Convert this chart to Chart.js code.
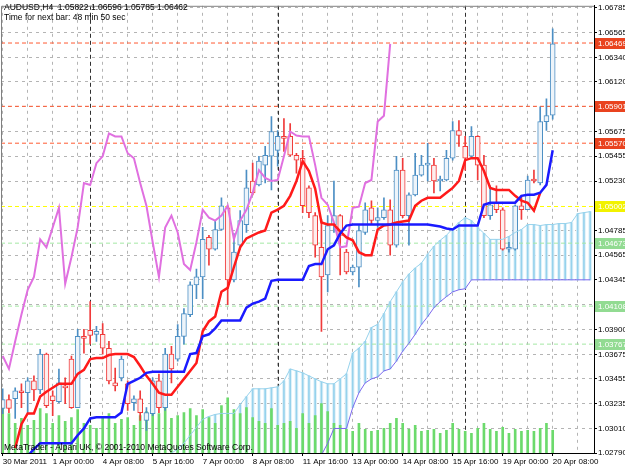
<!DOCTYPE html>
<html>
<head>
<meta charset="utf-8">
<script src="https://cdn.jsdelivr.net/npm/chart.js@4.4.0/dist/chart.umd.min.js"></script>
<style>
  html, body { margin: 0; padding: 0; background: #fff; }
</style>
</head>
<body>
<canvas id="myChart" width="625" height="469"></canvas>
<script>
// AUDUSD H4, bar 0 = 30 Mar 2011 16:00, one bar every 4 hours (weekends skipped)
const symbolName = 'AUDUSD,H4';
const labelBars = [0, 8, 16, 24, 32, 40, 48, 56, 64, 72, 80, 88];
const labelTexts = ['30 Mar 2011', '1 Apr 00:00', '4 Apr 08:00', '5 Apr 16:00', '7 Apr 00:00', '8 Apr 08:00',
    '11 Apr 16:00', '13 Apr 00:00', '14 Apr 08:00', '15 Apr 16:00', '19 Apr 00:00', '20 Apr 08:00'];
const weekStartBars = [14, 44, 74];
const priceTicks = [1.02790, 1.03010, 1.03235, 1.03455, 1.03675, 1.03900, 1.04120, 1.04345, 1.04565, 1.04785,
    1.05005, 1.05230, 1.05455, 1.05675, 1.05900, 1.06120, 1.06340, 1.06565, 1.06785];

const open = [1.03189, 1.03269, 1.03277, 1.03348, 1.03331, 1.03437, 1.03357, 1.03677, 1.03304, 1.03251,
    1.03393, 1.03633, 1.03197, 1.03837, 1.03890, 1.03855, 1.03855, 1.03730, 1.03419, 1.03464,
    1.03411, 1.03242, 1.03277, 1.03082, 1.03144, 1.03437, 1.03197, 1.03677, 1.03633, 1.03837,
    1.04032, 1.04299, 1.04370, 1.04725, 1.04618, 1.04796, 1.04991, 1.04344, 1.04654, 1.04840,
    1.05231, 1.05195, 1.05373, 1.05453, 1.05506, 1.05631, 1.05631, 1.05462, 1.05435, 1.05169,
    1.04920, 1.04636, 1.04387, 1.04840, 1.04920, 1.04592, 1.04414, 1.04458, 1.04769, 1.04991,
    1.04876, 1.04902, 1.04973, 1.04654, 1.05329, 1.04920, 1.05107, 1.05284, 1.05373, 1.05373,
    1.05231, 1.05240, 1.05435, 1.05684, 1.05542, 1.05453, 1.05631, 1.05373, 1.04920, 1.05036,
    1.04973, 1.04618, 1.04618, 1.05009, 1.04973, 1.05240, 1.05213, 1.05764, 1.05822];
const high = [1.03366, 1.03313, 1.03375, 1.03411, 1.03464, 1.03482, 1.03721, 1.03686, 1.03348, 1.03544,
    1.03464, 1.03659, 1.03899, 1.03899, 1.04148, 1.03926, 1.03952, 1.03792, 1.03553, 1.03659,
    1.03437, 1.03304, 1.03348, 1.03197, 1.03464, 1.03499, 1.03730, 1.03748, 1.03943, 1.04085,
    1.04325, 1.04441, 1.04814, 1.04743, 1.04876, 1.05080, 1.05009, 1.04760, 1.04965, 1.05329,
    1.05391, 1.05453, 1.05542, 1.05808, 1.05684, 1.05790, 1.05746, 1.05480, 1.05506, 1.05187,
    1.04947, 1.04885, 1.04920, 1.05231, 1.04929, 1.04618, 1.04476, 1.04831, 1.05036, 1.05053,
    1.04991, 1.05080, 1.05062, 1.05453, 1.05435, 1.05124, 1.05480, 1.05462, 1.05568, 1.05435,
    1.05275, 1.05506, 1.05764, 1.05773, 1.05631, 1.05719, 1.05639, 1.05462, 1.05187, 1.05187,
    1.04991, 1.04681, 1.05018, 1.05098, 1.05275, 1.05329, 1.05897, 1.05968, 1.06596];
const low = [1.03144, 1.03153, 1.03100, 1.03197, 1.03144, 1.03260, 1.03322, 1.03197, 1.03126, 1.03242,
    1.03233, 1.03189, 1.03197, 1.03686, 1.03766, 1.03792, 1.03677, 1.03411, 1.03348, 1.03437,
    1.03171, 1.03171, 1.03082, 1.02993, 1.03126, 1.03153, 1.03171, 1.03419, 1.03615, 1.03766,
    1.04014, 1.04174, 1.04174, 1.04476, 1.04609, 1.04787, 1.04121, 1.04325, 1.04618, 1.04769,
    1.05107, 1.05187, 1.05213, 1.05151, 1.05364, 1.05497, 1.05453, 1.05302, 1.04947, 1.04902,
    1.04547, 1.03881, 1.04236, 1.04769, 1.04387, 1.04396, 1.04387, 1.04281, 1.04751, 1.04840,
    1.04814, 1.04885, 1.04565, 1.04636, 1.04902, 1.04654, 1.05098, 1.05275, 1.05231, 1.05124,
    1.05142, 1.05231, 1.05417, 1.05542, 1.05329, 1.05435, 1.05240, 1.04902, 1.04885, 1.04947,
    1.04609, 1.04592, 1.04609, 1.04885, 1.04973, 1.05213, 1.05195, 1.05684, 1.05785];
const close = [1.03269, 1.03189, 1.03348, 1.03331, 1.03437, 1.03357, 1.03677, 1.03215, 1.03260, 1.03419,
    1.03375, 1.03197, 1.03837, 1.03819, 1.03846, 1.03881, 1.03730, 1.03437, 1.03393, 1.03633,
    1.03233, 1.03277, 1.03153, 1.03153, 1.03437, 1.03197, 1.03677, 1.03544, 1.03837, 1.04041,
    1.04299, 1.04370, 1.04707, 1.04618, 1.04796, 1.05009, 1.04344, 1.04592, 1.04876, 1.05169,
    1.05124, 1.05409, 1.05462, 1.05675, 1.05631, 1.05613, 1.05462, 1.05417, 1.05009, 1.04947,
    1.04654, 1.04370, 1.04831, 1.04920, 1.04743, 1.04414, 1.04458, 1.04787, 1.04973, 1.04876,
    1.04902, 1.04973, 1.04654, 1.05329, 1.04920, 1.05107, 1.05284, 1.05373, 1.05382, 1.05231,
    1.05240, 1.05435, 1.05684, 1.05639, 1.05435, 1.05631, 1.05373, 1.04920, 1.05018, 1.04973,
    1.04618, 1.04636, 1.05009, 1.04973, 1.05240, 1.05231, 1.05764, 1.05817, 1.06462];
const volume = [960, 800, 600, 700, 560, 660, 900, 800, 600, 760,
    640, 720, 880, 600, 560, 500, 700, 800, 600, 680,
    720, 560, 760, 840, 900, 800, 920, 700, 760, 820,
    900, 760, 880, 720, 600, 960, 1120, 880, 800, 920,
    720, 640, 600, 900, 560, 600, 640, 500, 800, 600,
    760, 1000, 840, 600, 560, 480, 440, 600, 480, 440,
    460, 500, 600, 700, 600, 480, 560, 440, 460, 480,
    400, 460, 600, 480, 440, 400, 500, 600, 480, 440,
    520, 400, 480, 440, 460, 440, 500, 600, 460];

// Ichimoku lines
const tenkan = [null, null, 1.02834, 1.03048, 1.03145, 1.03145, 1.03296, 1.03340, 1.03376, 1.03411,
    1.03411, 1.03411, 1.03500, 1.03536, 1.03633, 1.03642, 1.03642, 1.03669, 1.03678, 1.03678,
    1.03678, 1.03651, 1.03571, 1.03482, 1.03411, 1.03331, 1.03313, 1.03313, 1.03384, 1.03455,
    1.03526, 1.03598, 1.03882, 1.03971, 1.04015, 1.04237, 1.04272, 1.04459, 1.04636, 1.04716,
    1.04743, 1.04769, 1.04787, 1.04947, 1.04974, 1.05009, 1.05098, 1.05231, 1.05409, 1.05320,
    1.05160, 1.04858, 1.04840, 1.04840, 1.04778, 1.04725, 1.04699, 1.04592, 1.04565, 1.04565,
    1.04796, 1.04831, 1.04840, 1.04858, 1.04867, 1.04876, 1.05009, 1.05054, 1.05080, 1.05080,
    1.05080, 1.05125, 1.05169, 1.05231, 1.05418, 1.05436, 1.05436, 1.05320, 1.05169, 1.05151,
    1.05151, 1.05151, 1.05098, 1.05054, 1.05036, 1.04965, 1.05125];
const kijun = [null, null, null, null, 1.02764, 1.02825, 1.02878, 1.02878, 1.02878, 1.02878,
    1.02878, 1.02878, 1.02949, 1.03011, 1.03100, 1.03110, 1.03110, 1.03110, 1.03110, 1.03154,
    1.03411, 1.03438, 1.03465, 1.03509, 1.03518, 1.03518, 1.03518, 1.03518, 1.03518, 1.03518,
    1.03678, 1.03687, 1.03838, 1.03855, 1.03909, 1.03980, 1.03980, 1.03980, 1.03980, 1.04095,
    1.04130, 1.04148, 1.04175, 1.04335, 1.04344, 1.04344, 1.04344, 1.04344, 1.04344, 1.04468,
    1.04485, 1.04485, 1.04618, 1.04654, 1.04760, 1.04831, 1.04840, 1.04840, 1.04840, 1.04840,
    1.04840, 1.04840, 1.04840, 1.04840, 1.04840, 1.04840, 1.04840, 1.04840, 1.04840, 1.04831,
    1.04823, 1.04805, 1.04796, 1.04831, 1.04831, 1.04831, 1.04831, 1.05018, 1.05036, 1.05036,
    1.05036, 1.05036, 1.05036, 1.05098, 1.05107, 1.05107, 1.05125, 1.05196, 1.05507];
const chikou = [1.03660, 1.03545, 1.03793, 1.04033, 1.04255, 1.04370, 1.04707, 1.04636, 1.04814, 1.04991,
    1.04308, 1.04547, 1.04814, 1.05213, 1.05195, 1.05391, 1.05453, 1.05658, 1.05631, 1.05631,
    1.05480, 1.05435, 1.05213, 1.05009, 1.04681, 1.04370, 1.04814, 1.04920, 1.04769, 1.04486,
    1.04432, 1.04681, 1.04973, 1.04902, 1.04876, 1.04920, 1.05009, 1.04707, 1.04876, 1.04973,
    1.05125, 1.05329, 1.05258, 1.05231, 1.05240, 1.05453, 1.05675, 1.05639, 1.05631, 1.05631,
    1.05373, 1.05080, 1.05018, 1.04858, 1.04636, 1.04645, 1.04991, 1.05000, 1.05213, 1.05240,
    1.05764, 1.05817, 1.06462];
// cloud, bars 27..94 (span B is below the visible range until bar 51)
const spanA = Array(27).fill(null).concat([
    1.02789, 1.02825, 1.02878, 1.02949, 1.03020, 1.03092, 1.03118, 1.03136, 1.03145, 1.03145,
    1.03145, 1.03225, 1.03296, 1.03366, 1.03366, 1.03366, 1.03375, 1.03384, 1.03437, 1.03544,
    1.03527, 1.03509, 1.03482, 1.03455, 1.03429, 1.03411, 1.03411, 1.03455, 1.03500, 1.03686,
    1.03731, 1.03793, 1.03917, 1.03944, 1.04041, 1.04148, 1.04236, 1.04325, 1.04396, 1.04450,
    1.04494, 1.04574, 1.04645, 1.04699, 1.04743, 1.04805, 1.04858, 1.04902, 1.04876, 1.04814,
    1.04761, 1.04707, 1.04707, 1.04707, 1.04734, 1.04769, 1.04796, 1.04840, 1.04840, 1.04831,
    1.04840, 1.04840, 1.04849, 1.04849, 1.04858, 1.04938, 1.04947, 1.04956]);
const spanB = Array(27).fill(null).concat([
    1.02700, 1.02700, 1.02700, 1.02700, 1.02700, 1.02700, 1.02700, 1.02700, 1.02700, 1.02700,
    1.02700, 1.02700, 1.02700, 1.02700, 1.02700, 1.02700, 1.02700, 1.02700, 1.02700, 1.02700,
    1.02700, 1.02700, 1.02700, 1.02700, 1.02772, 1.02878, 1.03010, 1.03010, 1.03010, 1.03197,
    1.03331, 1.03419, 1.03455, 1.03473, 1.03527, 1.03544, 1.03615, 1.03704, 1.03775, 1.03855,
    1.03943, 1.04014, 1.04094, 1.04148, 1.04193, 1.04236, 1.04255, 1.04264, 1.04344, 1.04344,
    1.04344, 1.04344, 1.04344, 1.04344, 1.04344, 1.04344, 1.04344, 1.04344, 1.04344, 1.04344,
    1.04344, 1.04344, 1.04344, 1.04344, 1.04344, 1.04344, 1.04344, 1.04344]);

// horizontal price levels drawn on the chart
const levelValues = [1.06469, 1.05901, 1.05570, 1.05002, 1.04673, 1.04108, 1.03767];
const levelLine = ['#ff5a32', '#ff5a32', '#ff5a32', '#ffff00', '#a4e8a4', '#a4e8a4', '#a4e8a4'];
const levelBox = ['#e9431f', '#e9431f', '#e9431f', '#f2f200', '#92db92', '#92db92', '#92db92'];

const X_MIN = -0.27, X_MAX = 94.61;
const Y_MIN = 1.02790, Y_MAX = 1.06803;
const FONT = '"Liberation Sans", Arial, sans-serif';

const gridBars = [];
for (let b = 0; b <= 92; b += 4) gridBars.push(b);

function pts(arr) {
    return arr.map((v, i) => ({x: i, y: v})).filter(p => p.y !== null);
}
function ranges(a, b) {
    return a.map((v, i) => ({x: i, y: [a[i], b[i]]})).filter(p => p.y[0] !== null && p.y[1] !== null);
}

const isBull = close.map((c, i) => c >= open[i]);
const edgeCol = isBull.map(b => b ? '#4c8fc4' : '#f03a3a');
const bodyCol = isBull.map(b => b ? '#edf4fa' : '#fdeeee');

const datasets = [
    {type: 'line', label: 'Kijun', data: pts(kijun), borderColor: '#1a1aff', borderWidth: 2.5, pointRadius: 0, order: 1, clip: 0},
    {type: 'line', label: 'Tenkan', data: pts(tenkan), borderColor: '#ff1a1a', borderWidth: 2.5, pointRadius: 0, order: 2, clip: 0},
    {type: 'line', label: 'Chikou', data: pts(chikou), borderColor: '#e070e0', borderWidth: 2, pointRadius: 0, order: 3, clip: 0},
    {type: 'line', label: 'Span B', data: pts(spanB), borderColor: '#7b68ee', borderWidth: 1, pointRadius: 0, order: 4, clip: 0},
    {type: 'line', label: 'Span A', data: pts(spanA), borderColor: '#96d2ec', borderWidth: 1, pointRadius: 0, order: 5, clip: 0},
    {type: 'bar', label: 'Body', data: ranges(open, close), grouped: false, barThickness: 5, minBarLength: 2,
        backgroundColor: bodyCol, borderColor: edgeCol, borderWidth: 1, borderSkipped: false, order: 6, clip: 0},
    {type: 'bar', label: 'Wick', data: ranges(low, high), grouped: false, barThickness: 1,
        backgroundColor: edgeCol, borderWidth: 0, order: 7, clip: 0},
    {type: 'bar', label: 'Volume', data: pts(volume), yAxisID: 'yv', grouped: false, barThickness: 2,
        backgroundColor: '#6cda6c', borderWidth: 0, order: 9, clip: 0},
    {type: 'bar', label: 'Cloud', data: ranges(spanB, spanA), grouped: false, barThickness: 1,
        backgroundColor: '#96d2ec', borderWidth: 0, order: 10, clip: 0},
    {type: 'bar', label: 'Cloud fill', data: ranges(spanB, spanA), grouped: false, barThickness: 3,
        backgroundColor: '#e0f1f9', borderWidth: 0, order: 11, clip: 0}
];
levelValues.forEach((v, k) => {
    datasets.push({type: 'line', label: 'level', data: [{x: X_MIN, y: v}, {x: X_MAX, y: v}],
        borderColor: levelLine[k], borderWidth: 1, borderDash: [4, 3], pointRadius: 0, order: 8, clip: 0});
});

const extras = {
    id: 'extras',
    beforeDatasetsDraw(chart) {
        const {ctx, chartArea: a, scales: {x}} = chart;
        ctx.save();
        ctx.strokeStyle = '#303030';
        ctx.lineWidth = 1;
        ctx.setLineDash([4, 3]);
        weekStartBars.forEach(b => {
            const px = Math.round(x.getPixelForValue(b)) + 0.5;
            ctx.beginPath();
            ctx.moveTo(px, a.top);
            ctx.lineTo(px, a.bottom);
            ctx.stroke();
        });
        ctx.restore();
    },
    afterDraw(chart) {
        const {ctx, chartArea: a, scales: {y}} = chart;
        ctx.save();
        // frame
        ctx.strokeStyle = '#808080';
        ctx.lineWidth = 1;
        ctx.beginPath();
        ctx.moveTo(a.left + 0.5, a.bottom);
        ctx.lineTo(a.left + 0.5, a.top + 0.5);
        ctx.lineTo(a.right, a.top + 0.5);
        ctx.stroke();
        // price labels on the axis
        ctx.font = '8px ' + FONT;
        ctx.textBaseline = 'middle';
        levelValues.forEach((v, k) => {
            const py = Math.round(y.getPixelForValue(v));
            ctx.fillStyle = levelBox[k];
            ctx.fillRect(a.right + 1, py - 5, 31, 11);
            ctx.fillStyle = '#ffffff';
            ctx.fillText(v.toFixed(5), a.right + 4, py + 0.5);
        });
        // texts
        ctx.fillStyle = '#000';
        ctx.textBaseline = 'alphabetic';
        ctx.font = '8.5px ' + FONT;
        const last = open.length - 1;
        ctx.fillText(symbolName + '  ' + open[last].toFixed(5) + ' ' + high[last].toFixed(5) + ' ' +
            low[last].toFixed(5) + ' ' + close[last].toFixed(5), 4, 10);
        ctx.fillText('Time for next bar: 48 min 50 sec', 4, 20);
        ctx.fillText('MetaTrader - Alpari UK, \u00a9 2001-2010 MetaQuotes Software Corp.', 4, 450);
        ctx.restore();
    }
};

const ctx = document.getElementById('myChart').getContext('2d');
new Chart(ctx, {
    type: 'bar',
    data: {datasets: datasets},
    options: {
        responsive: false,
        animation: false,
        events: [],
        layout: {padding: {left: 1, top: 1, right: 0, bottom: 0}},
        plugins: {legend: {display: false}, tooltip: {enabled: false}},
        scales: {
            x: {
                type: 'linear', min: X_MIN, max: X_MAX, offset: false,
                grid: {
                    offset: false, color: '#b4b4b4', lineWidth: 1, tickLength: 3,
                    tickColor: c => (c.tick && labelBars.includes(c.tick.value)) ? '#000' : 'rgba(0,0,0,0)'
                },
                border: {display: true, color: '#000', dash: [3, 4]},
                ticks: {
                    autoSkip: false, maxRotation: 0, minRotation: 0, align: 'start', padding: 1,
                    color: '#000', font: {family: FONT, size: 8},
                    callback: v => {
                        const k = labelBars.indexOf(v);
                        return k >= 0 ? labelTexts[k] : '';
                    }
                },
                afterBuildTicks: s => { s.ticks = gridBars.map(v => ({value: v})); },
                afterFit: s => { s.height = 16; }
            },
            y: {
                type: 'linear', position: 'right', min: Y_MIN, max: Y_MAX,
                grid: {color: '#b4b4b4', lineWidth: 1, tickLength: 3, tickColor: '#000'},
                border: {display: true, color: '#000', dash: [3, 4]},
                ticks: {padding: 1, color: '#000', font: {family: FONT, size: 8}, callback: v => v.toFixed(5)},
                afterBuildTicks: s => { s.ticks = priceTicks.map(v => ({value: v})); },
                afterFit: s => { s.width = 31; }
            },
            yv: {type: 'linear', display: false, min: 0, max: 9060}
        }
    },
    plugins: [extras]
});
</script>
</body>
</html>
